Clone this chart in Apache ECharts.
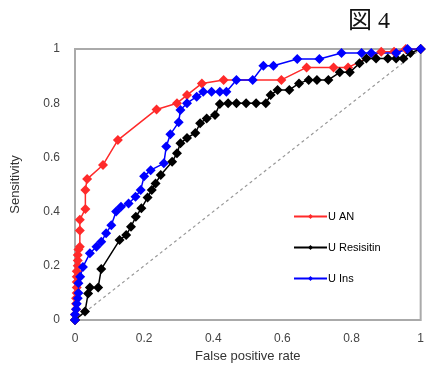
<!DOCTYPE html>
<html>
<head>
<meta charset="utf-8">
<script src="https://cdn.jsdelivr.net/npm/echarts@6/dist/echarts.min.js"></script>
<style>html,body{margin:0;padding:0;background:#fff;}#c{width:427px;height:371px;}</style>
</head>
<body>
<div id="c"></div>
<script>
// Tick labels
const xTicks = [0, 0.2, 0.4, 0.6, 0.8, 1];
const yTicks = [0, 0.2, 0.4, 0.6, 0.8, 1];
const seriesNames = ['U AN', 'U Resisitin', 'U Ins'];

// U AN
const uanFpr  = [0,0,0.003,0.003,0.003,0.005,0.005,0.005,0.005,0.005,0.008,0.008,0.008,0.01,0.014,0.014,0.014,0.03,0.03,0.035,0.081,0.124,0.236,0.295,0.324,0.367,0.43,0.597,0.67,0.748,0.79,0.886,0.923,0.957,1];
const uanSens = [0,0.02,0.04,0.06,0.08,0.10,0.12,0.14,0.16,0.18,0.20,0.22,0.24,0.26,0.27,0.33,0.37,0.41,0.48,0.52,0.572,0.664,0.777,0.80,0.83,0.873,0.886,0.886,0.932,0.932,0.932,0.99,0.99,1,1];

// U Resisitin
const uresFpr  = [0,0.029,0.038,0.043,0.067,0.076,0.129,0.148,0.162,0.176,0.192,0.21,0.222,0.233,0.248,0.281,0.295,0.305,0.324,0.348,0.362,0.381,0.405,0.419,0.443,0.467,0.495,0.524,0.552,0.566,0.586,0.62,0.648,0.676,0.70,0.733,0.766,0.795,0.823,0.843,0.871,0.905,0.929,0.95,0.97,1];
const uresSens = [0,0.031,0.098,0.12,0.12,0.188,0.295,0.314,0.344,0.381,0.412,0.452,0.48,0.504,0.535,0.584,0.615,0.652,0.672,0.69,0.726,0.744,0.756,0.797,0.80,0.80,0.80,0.80,0.80,0.83,0.849,0.849,0.873,0.886,0.886,0.886,0.914,0.914,0.947,0.965,0.965,0.965,0.965,0.965,0.985,1];

// U Ins
const uinsFpr  = [0,0,0.003,0.005,0.008,0.01,0.01,0.015,0.023,0.043,0.062,0.076,0.09,0.105,0.119,0.133,0.155,0.175,0.19,0.2,0.219,0.257,0.264,0.276,0.30,0.305,0.324,0.352,0.371,0.395,0.419,0.438,0.467,0.514,0.545,0.574,0.643,0.707,0.771,0.829,0.857,0.929,0.962,1];
const uinsSens = [0,0.02,0.04,0.06,0.08,0.10,0.136,0.16,0.196,0.246,0.27,0.289,0.32,0.35,0.40,0.418,0.43,0.455,0.48,0.53,0.553,0.578,0.64,0.685,0.73,0.775,0.80,0.824,0.842,0.842,0.842,0.842,0.886,0.886,0.938,0.938,0.963,0.963,0.985,0.985,0.985,0.985,1,1];

// chance line
const chanceFpr = [0, 1];
const chanceSens = [0, 1];

const zip = (a, b) => a.map((v, i) => [v, b[i]]);

const chart = echarts.init(document.getElementById('c'), null, {renderer: 'canvas'});
const font = 'Liberation Sans, Arial, sans-serif';
const mkSeries = (name, xs, ys, color) => ({
  name: name, type: 'line', data: zip(xs, ys),
  symbol: 'diamond', symbolSize: 10, showAllSymbol: true,
  lineStyle: {color: color, width: 1.5},
  itemStyle: {color: color},
  emphasis: {disabled: true}, animation: false
});

chart.setOption({
  animation: false,
  title: {
    text: '図 4', left: 343, top: 5,
    textStyle: {fontFamily: 'Liberation Serif, Noto Sans CJK JP, serif', fontSize: 24, fontWeight: 'normal', color: '#111'}
  },
  grid: {left: 75, right: 2, top: 49, bottom: 51, show: true, borderColor: '#aaa', borderWidth: 2, backgroundColor: 'transparent'},
  legend: {
    data: seriesNames, orient: 'vertical', left: 288, top: 206,
    itemWidth: 33, itemHeight: 6, itemGap: 20,
    textStyle: {fontFamily: font, fontSize: 11, color: '#000', padding: [0,0,0,-4]}
  },
  xAxis: {
    type: 'value', min: 0, max: 1, interval: 0.2,
    name: 'False positive rate', nameLocation: 'middle', nameGap: 27,
    nameTextStyle: {fontFamily: font, fontSize: 13, color: '#333'},
    axisLine: {show: false}, axisTick: {show: false}, splitLine: {show: false},
    axisLabel: {fontFamily: font, fontSize: 12, color: '#444', margin: 13,
      formatter: v => { const t = xTicks.find(k => Math.abs(k - v) < 1e-9); return t === undefined ? '' : String(t); }}
  },
  yAxis: {
    type: 'value', min: 0, max: 1, interval: 0.2,
    name: 'Sensitivity', nameLocation: 'middle', nameGap: 53, nameRotate: 90,
    nameTextStyle: {fontFamily: font, fontSize: 13, color: '#333'},
    axisLine: {show: false}, axisTick: {show: false}, splitLine: {show: false},
    axisLabel: {fontFamily: font, fontSize: 12, color: '#444', margin: 15,
      formatter: v => { const t = yTicks.find(k => Math.abs(k - v) < 1e-9); return t === undefined ? '' : String(t); }}
  },
  series: [
    {type: 'line', data: zip(chanceFpr, chanceSens), symbol: 'none', silent: true,
      lineStyle: {color: '#999', width: 1.2, type: [3, 3]}, z: 1},
    mkSeries(seriesNames[0], uanFpr, uanSens, '#ff2a2a'),
    mkSeries(seriesNames[1], uresFpr, uresSens, '#000000'),
    mkSeries(seriesNames[2], uinsFpr, uinsSens, '#0000ff')
  ]
});
</script>
</body>
</html>
